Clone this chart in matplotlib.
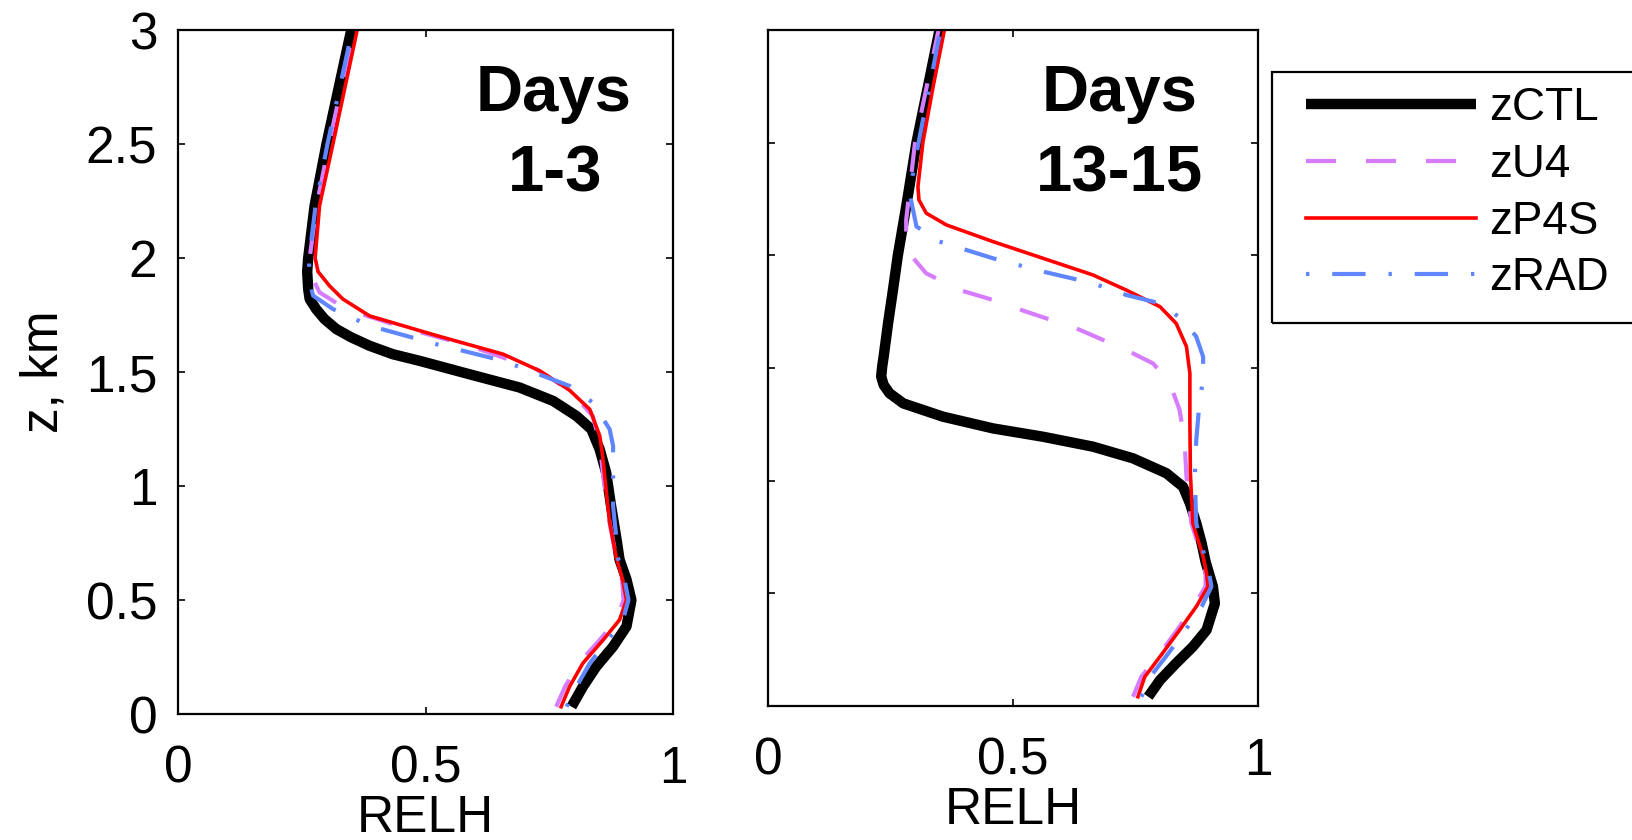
import matplotlib
matplotlib.use("Agg")
import matplotlib.pyplot as plt
from matplotlib.patches import Rectangle

plt.rcParams['font.family'] = ['Liberation Sans', 'DejaVu Sans']

# ---- data (RELH vs height z in km) ----
# Days 1-3
z_ctl_1 = [0.032, 0.12, 0.208, 0.296, 0.384, 0.5, 0.59, 0.677, 0.765, 0.911, 1.058, 1.16, 1.249,
           1.307, 1.373, 1.432, 1.49, 1.549, 1.578, 1.615, 1.652, 1.688, 1.732, 1.776, 1.82, 1.864,
           1.94, 2.0, 2.23, 2.5, 3.0]
rh_ctl_1 = [0.795, 0.818, 0.845, 0.879, 0.906, 0.916, 0.906, 0.892, 0.886, 0.875, 0.865, 0.852, 0.835,
            0.805, 0.758, 0.69, 0.589, 0.488, 0.434, 0.387, 0.35, 0.32, 0.296, 0.279, 0.266, 0.263,
            0.261, 0.263, 0.276, 0.30, 0.35]

z_u4_1 = [0.032, 0.12, 0.223, 0.325, 0.413, 0.5, 0.59, 0.69, 0.838, 1.044, 1.19, 1.307, 1.42, 1.512,
          1.615, 1.695, 1.776, 1.849, 1.92, 2.0, 2.23, 2.5, 3.0]
rh_u4_1 = [0.764, 0.782, 0.81, 0.852, 0.886, 0.90, 0.897, 0.885, 0.872, 0.859, 0.852, 0.838, 0.791, 0.724,
           0.589, 0.455, 0.34, 0.286, 0.27, 0.266, 0.28, 0.305, 0.355]

z_p4s_1 = [0.032, 0.12, 0.223, 0.325, 0.413, 0.5, 0.59, 0.69, 0.84, 0.98, 1.13, 1.22, 1.336, 1.42,
           1.505, 1.578, 1.66, 1.746, 1.82, 1.878, 1.94, 2.0, 2.23, 2.5, 3.0]
rh_p4s_1 = [0.774, 0.791, 0.818, 0.859, 0.892, 0.906, 0.898, 0.885, 0.872, 0.865, 0.858, 0.852, 0.832, 0.791,
            0.731, 0.657, 0.522, 0.387, 0.333, 0.306, 0.283, 0.277, 0.286, 0.313, 0.362]

z_rad_1 = [0.032, 0.12, 0.223, 0.325, 0.413, 0.5, 0.59, 0.69, 0.765, 0.911, 1.058, 1.176, 1.249, 1.366,
           1.439, 1.549, 1.622, 1.703, 1.776, 1.835, 1.9, 2.0, 2.23, 2.5, 3.0]
rh_rad_1 = [0.785, 0.805, 0.832, 0.869, 0.899, 0.91, 0.902, 0.888, 0.886, 0.879, 0.879, 0.879, 0.872, 0.838,
            0.791, 0.657, 0.522, 0.387, 0.313, 0.273, 0.265, 0.265, 0.278, 0.302, 0.352]

# Days 13-15
z_ctl_13 = [0.041, 0.115, 0.19, 0.263, 0.337, 0.455, 0.53, 0.64, 0.722, 0.811, 0.9, 0.973, 1.033, 1.099,
            1.151, 1.195, 1.232, 1.284, 1.343, 1.388, 1.425, 1.462, 1.506, 1.55, 1.698, 1.846, 2.0,
            2.216, 2.5, 3.0]
rh_ctl_13 = [0.776, 0.80, 0.833, 0.867, 0.895, 0.912, 0.908, 0.893, 0.885, 0.874, 0.861, 0.847, 0.813, 0.745,
             0.663, 0.561, 0.459, 0.357, 0.276, 0.248, 0.236, 0.231, 0.233, 0.236, 0.245, 0.255, 0.265,
             0.282, 0.303, 0.35]

z_u4_13 = [0.041, 0.13, 0.219, 0.337, 0.441, 0.53, 0.589, 0.663, 0.811, 1.018, 1.18, 1.314, 1.432, 1.52,
           1.58, 1.676, 1.75, 1.802, 1.846, 1.92, 2.024, 2.157, 2.5, 3.0]
rh_u4_13 = [0.745, 0.762, 0.795, 0.835, 0.868, 0.893, 0.893, 0.886, 0.864, 0.854, 0.85, 0.84, 0.82, 0.786,
            0.731, 0.629, 0.527, 0.459, 0.391, 0.323, 0.282, 0.282, 0.30, 0.348]

z_p4s_13 = [0.041, 0.13, 0.219, 0.337, 0.441, 0.53, 0.589, 0.663, 0.811, 1.033, 1.254, 1.476, 1.595, 1.698,
            1.772, 1.846, 1.913, 1.987, 2.061, 2.135, 2.187, 2.246, 2.305, 2.5, 2.749, 3.0]
rh_p4s_13 = [0.755, 0.769, 0.80, 0.84, 0.874, 0.898, 0.895, 0.888, 0.867, 0.862, 0.861, 0.861, 0.854, 0.833,
             0.80, 0.731, 0.663, 0.561, 0.459, 0.364, 0.323, 0.308, 0.306, 0.316, 0.337, 0.36]

z_rad_13 = [0.041, 0.13, 0.219, 0.337, 0.441, 0.53, 0.589, 0.663, 0.811, 1.018, 1.18, 1.358, 1.447, 1.55,
            1.639, 1.713, 1.787, 1.824, 1.876, 1.928, 1.987, 2.061, 2.128, 2.276, 2.453, 2.897, 3.0]
rh_rad_13 = [0.762, 0.78, 0.812, 0.852, 0.885, 0.905, 0.90, 0.891, 0.874, 0.871, 0.874, 0.881, 0.888, 0.888,
             0.874, 0.847, 0.80, 0.731, 0.663, 0.561, 0.459, 0.35, 0.303, 0.289, 0.303, 0.343, 0.352]

labels = ["zCTL", "zU4", "zP4S", "zRAD"]
xticks = [0, 0.5, 1]
yticks = [0, 0.5, 1, 1.5, 2, 2.5, 3]

# line styles per run
styles = {
    "zCTL": dict(color="black", lw=7.5, ls="-", solid_capstyle="butt"),
    "zU4": dict(color="#D67DFF", lw=3.0, ls=(0, (7.2, 7.2))),
    "zP4S": dict(color="#FF0000", lw=2.6, ls="-"),
    "zRAD": dict(color="#5F86FF", lw=3.0, ls=(0, (0.8, 5.5, 8.0, 5.5))),
}

fig = plt.figure(figsize=(16.32, 8.4), dpi=100)
ax1 = fig.add_axes([178 / 1632, 1 - 714 / 840, 495 / 1632, 684 / 840])
ax2 = fig.add_axes([768 / 1632, 1 - 706 / 840, 490 / 1632, 676 / 840])

panel1 = [(z_ctl_1, rh_ctl_1), (z_u4_1, rh_u4_1), (z_p4s_1, rh_p4s_1), (z_rad_1, rh_rad_1)]
panel2 = [(z_ctl_13, rh_ctl_13), (z_u4_13, rh_u4_13), (z_p4s_13, rh_p4s_13), (z_rad_13, rh_rad_13)]

handles = []
for ax, panel in [(ax1, panel1), (ax2, panel2)]:
    hs = []
    for lab, (z, rh) in zip(labels, panel):
        h, = ax.plot(rh, z, label=lab, solid_joinstyle="round", dash_joinstyle="round", **styles[lab])
        hs.append(h)
    if not handles:
        handles = hs
    ax.set_xlim(0, 1)
    ax.set_ylim(0, 3)
    ax.set_xticks(xticks)
    ax.set_xticklabels(["0", "0.5", "1"])
    ax.set_yticks(yticks)
    ax.tick_params(direction="in", length=5, width=1.2, top=True, right=True,
                   labelsize=37, colors="black")
    ax.tick_params(axis="x", pad=22)
    ax.tick_params(axis="y", pad=15)
    for sp in ax.spines.values():
        sp.set_linewidth(1.6)
    ax.set_xlabel("RELH", fontsize=37, labelpad=0)

ax1.set_yticklabels(["0", "0.5", "1", "1.5", "2", "2.5", "3"])
ax2.set_yticklabels([])
ax1.set_ylabel("z, km", fontsize=37, labelpad=12)

# panel titles
fig.text(554 / 1632, 1 - 110.7 / 840, "Days", fontsize=47, fontweight="bold", ha="center", va="baseline")
fig.text(555 / 1632, 1 - 192 / 840, "1-3", fontsize=47, fontweight="bold", ha="center", va="baseline")
fig.text(1120 / 1632, 1 - 110.7 / 840, "Days", fontsize=47, fontweight="bold", ha="center", va="baseline")
fig.text(1120 / 1632, 1 - 192 / 840, "13-15", fontsize=47, fontweight="bold", ha="center", va="baseline")

# legend (box runs off the right edge)
fig.legend(handles=handles, labels=labels, loc="upper left",
           bbox_to_anchor=(1306 / 1632, 1 - 86 / 840), frameon=False, fontsize=33,
           handlelength=3.7, handletextpad=0.3, labelspacing=0.28, borderpad=0, borderaxespad=0)
fig.patches.append(Rectangle((1272 / 1632, 1 - 323 / 840), 0.3, (323 - 71.7) / 840,
                             transform=fig.transFigure, fill=False, edgecolor="black", lw=1.6))

fig.savefig("out.png", dpi=100)
